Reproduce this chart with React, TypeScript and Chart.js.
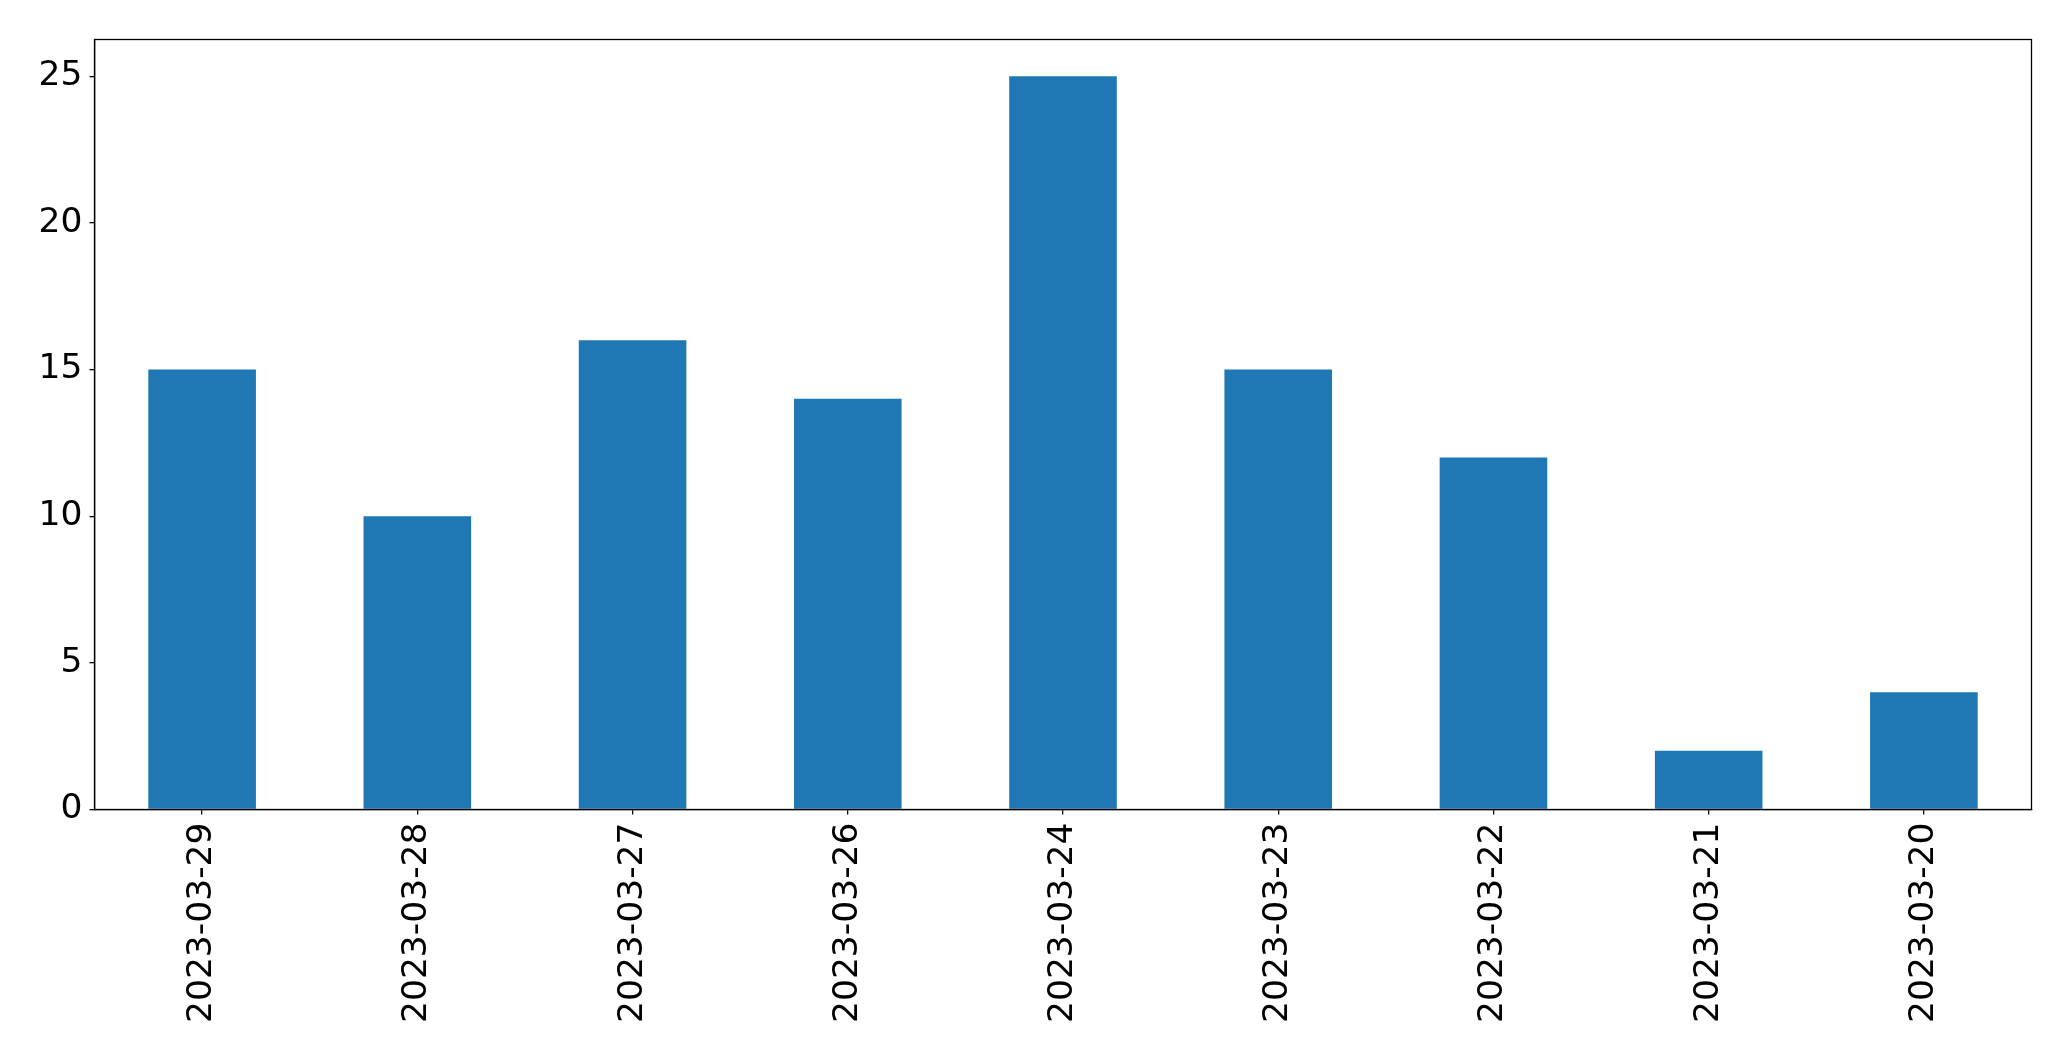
import React, { useEffect, useRef } from "react";
import { Chart, registerables } from "chart.js";

Chart.register(...registerables);

const categories = [
  "2023-03-29",
  "2023-03-28",
  "2023-03-27",
  "2023-03-26",
  "2023-03-24",
  "2023-03-23",
  "2023-03-22",
  "2023-03-21",
  "2023-03-20",
];
const counts = [15, 10, 16, 14, 25, 15, 12, 2, 4];
const yTicks = [0, 5, 10, 15, 20, 25];

const W = 2071;
const H = 1061;

const framePlugin = {
  id: "frame",
  afterDraw(chart: any) {
    const { ctx, chartArea } = chart;
    ctx.save();
    ctx.strokeStyle = "#000";
    ctx.lineWidth = 1.3;
    ctx.strokeRect(chartArea.left, chartArea.top, chartArea.right - chartArea.left, chartArea.bottom - chartArea.top);
    ctx.restore();
  },
};

export default function App() {
  const ref = useRef<HTMLCanvasElement | null>(null);
  useEffect(() => {
    document.body.style.margin = "0";
    const canvas = ref.current!;
    const font = { family: "'DejaVu Sans', sans-serif", size: 34.5 };
    const chart = new Chart(canvas, {
      type: "bar",
      data: {
        labels: categories,
        datasets: [
          {
            data: counts,
            backgroundColor: "#1f77b4",
            borderWidth: 0,
            categoryPercentage: 1,
            barPercentage: 0.5,
          },
        ],
      },
      options: {
        animation: false,
        responsive: false,
        devicePixelRatio: 1,
        layout: { padding: { top: 39.5, right: 39.5, left: 0, bottom: 0 } },
        plugins: { legend: { display: false }, tooltip: { enabled: false } },
        scales: {
          x: {
            offset: true,
            grid: { display: true, offset: false, drawOnChartArea: false, tickLength: 5, color: "#000", lineWidth: 1.3 },
            border: { display: true, color: "#000", width: 1.3 },
            ticks: { color: "#000", font, minRotation: 90, maxRotation: 90, padding: 8, autoSkip: false },
            afterFit: (s: any) => {
              s.height = 251.5;
            },
          },
          y: {
            min: 0,
            max: 26.25,
            grid: { display: true, drawOnChartArea: false, tickLength: 5, color: "#000", lineWidth: 1.3 },
            border: { display: true, color: "#000", width: 1.3 },
            ticks: { color: "#000", font, padding: 7 },
            afterBuildTicks: (s: any) => {
              s.ticks = yTicks.map((v) => ({ value: v }));
            },
            afterFit: (s: any) => {
              s.width = 94.5;
            },
          },
        },
      },
      plugins: [framePlugin],
    });
    return () => chart.destroy();
  }, []);
  return (
    <div style={{ position: "absolute", left: 0, top: 0, width: W, height: H, background: "#fff" }}>
      <canvas ref={ref} width={W} height={H} style={{ width: W, height: H, display: "block" }} />
    </div>
  );
}
